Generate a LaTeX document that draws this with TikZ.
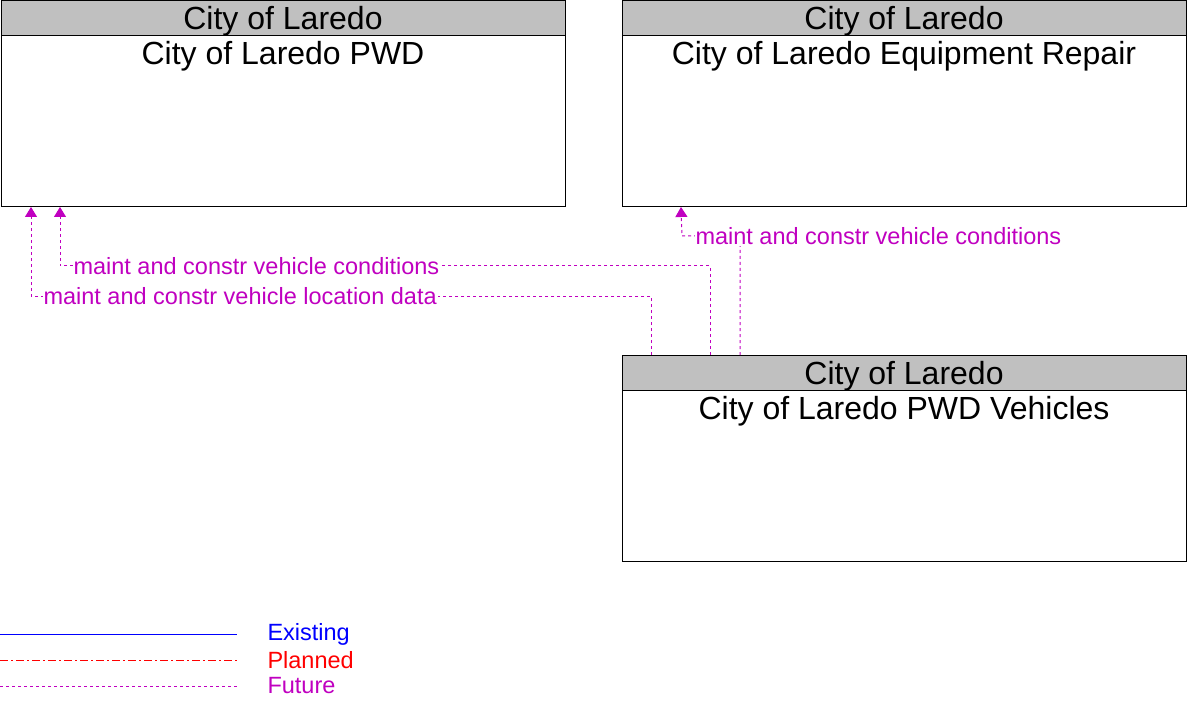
\documentclass[tikz,border=0pt]{standalone}
\usepackage{fontspec}
\setmainfont{Liberation Sans}
\usetikzlibrary{positioning,arrows.meta}
\definecolor{futurecol}{RGB}{192,0,192}
\definecolor{existcol}{RGB}{0,0,255}
\definecolor{plannedcol}{RGB}{255,0,0}
\definecolor{hdrgray}{RGB}{192,192,192}

\begin{document}
\begin{tikzpicture}[
  x=1pt, y=-1pt,
  line width=1pt,
  ent/.style={draw=black, minimum width=564pt, minimum height=206pt, inner sep=0pt, outer sep=0pt},
  hdr/.style={draw=black, fill=hdrgray, minimum width=564pt, minimum height=35pt, inner sep=0pt, outer sep=0pt,
    font=\fontsize{32}{32}\selectfont, text height=23pt, text depth=0pt},
  title/.style={font=\fontsize{32}{32}\selectfont, inner sep=0pt, anchor=base},
  flowlbl/.style={font=\fontsize{23.5}{23.5}\selectfont, text=futurecol, fill=white, inner sep=1pt, anchor=west},
  leglbl/.style={font=\fontsize{23.5}{23.5}\selectfont, inner sep=0pt, anchor=west},
  future/.style={draw=futurecol, dash pattern=on 3pt off 3pt, -{Triangle[width=12pt,length=10pt]}},
  existing/.style={draw=existcol},
  planned/.style={draw=plannedcol, dash pattern=on 8pt off 3pt on 2pt off 3pt},
  futureline/.style={draw=futurecol, dash pattern=on 3pt off 3pt}
]
\useasboundingbox (0,0) rectangle (1200,714);

% Entities
\node[ent] (pwd) at (283,104) {};
\node[hdr, anchor=north] (pwdhdr) at (pwd.north) {City of Laredo};
\node[title] (pwdname) at ([yshift=-64pt]pwd.north) {City of Laredo PWD};

\node[ent] (rep) at (904,104) {};
\node[hdr, anchor=north] (rephdr) at (rep.north) {City of Laredo};
\node[title] (repname) at ([yshift=-64pt]rep.north) {City of Laredo Equipment Repair};

\node[ent] (veh) at (904,458) {};
\node[hdr, anchor=north] (vehhdr) at (veh.north) {City of Laredo};
\node[title] (vehname) at ([yshift=-64pt]veh.north) {City of Laredo PWD Vehicles};

% Flows
\coordinate (b1) at (31,296);
\coordinate (b2) at (60,266);
\coordinate (b3) at (682,236);

\draw[future] ([xshift=29pt]veh.north west) |- (b1) -- ([xshift=30pt]pwd.south west);
\draw[future] ([xshift=88pt]veh.north west) |- (b2) -- ([xshift=59pt]pwd.south west);
\draw[future] ([xshift=118pt]veh.north west) |- (b3) -- ([xshift=59pt]rep.south west);

\node[flowlbl] (f1) at ([xshift=11pt]b1) {maint and constr vehicle location data};
\node[flowlbl] (f2) at ([xshift=12pt]b2) {maint and constr vehicle conditions};
\node[flowlbl] (f3) at ([xshift=12pt]b3) {maint and constr vehicle conditions};

% Legend
\foreach \y/\s/\c/\t in {634/existing/existcol/Existing, 660/planned/plannedcol/Planned, 686/futureline/futurecol/Future}{
  \coordinate (leg\t a) at (0,\y);
  \coordinate (leg\t b) at (237,\y);
  \draw[\s] (leg\t a) -- (leg\t b);
  \node[leglbl, text=\c] (leg\t) at (267,\y) {\t};
}
\end{tikzpicture}
\end{document}
